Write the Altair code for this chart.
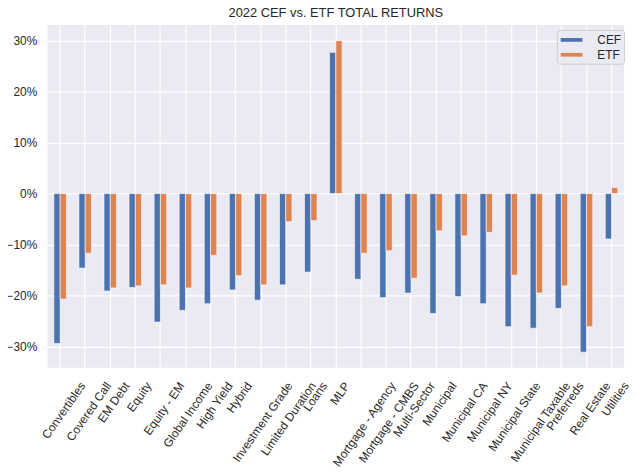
import altair as alt
import pandas as pd

categories = [
    "Convertibles", "Covered Call", "EM Debt", "Equity", "Equity - EM",
    "Global Income", "High Yield", "Hybrid", "Investment Grade",
    "Limited Duration", "Loans", "MLP", "Mortgage - Agency",
    "Mortgage - CMBS", "Multi-Sector", "Municipal", "Municipal CA",
    "Municipal NY", "Municipal State", "Municipal Taxable", "Preferreds",
    "Real Estate", "Utilities",
]
cef = [-29.4, -14.6, -19.1, -18.4, -25.2, -22.9, -21.6, -18.9, -20.9, -17.9,
       -15.4, 27.7, -16.8, -20.4, -19.5, -23.5, -20.2, -21.6, -26.1, -26.4,
       -22.5, -31.1, -8.9]
etf = [-20.7, -11.7, -18.5, -18.1, -17.9, -18.5, -12.1, -16.1, -17.9, -5.5,
       -5.3, 30.0, -11.7, -11.2, -16.6, -7.3, -8.3, -7.6, -16.0, -19.5,
       -18.1, -26.1, 1.2]
series = ["CEF", "ETF"]
colors = ["#4C72B0", "#DD8452"]
y_ticks = [-30, -20, -10, 0, 10, 20, 30]

rows = []
for c, a, b in zip(categories, cef, etf):
    rows.append({"category": c, "series": "CEF", "value": a})
    rows.append({"category": c, "series": "ETF", "value": b})
df = pd.DataFrame(rows)

lo = min(cef + etf)
hi = max(cef + etf)
margin = (hi - lo) * 0.05
FONT = "Liberation Sans"
TXT = "#262626"

# approximate rendered label width (12px Arial metrics) so that the rotated
# label's bounding box is centred under its tick, as matplotlib does
W = ("(6.4*length(datum.label)"
     " - 3.7*length(replace(datum.label, regexp('[^iljtfI]', 'g'), ''))"
     " - 2.6*length(replace(datum.label, regexp('[^ r-]', 'g'), ''))"
     " + 1.9*length(replace(datum.label, regexp('[^A-HJ-Z]', 'g'), '')))")
label_dx = "0.287*" + W

chart = alt.Chart(df).mark_bar(stroke="white", strokeWidth=0.6).encode(
    x=alt.X(
        "category:N",
        sort=categories,
        title=None,
        scale=alt.Scale(paddingInner=0.5, paddingOuter=0.25),
        axis=alt.Axis(
            labelAngle=305,
            labelAlign="right",
            labelBaseline="top",
            labelPadding=12.5,
            labelOffset={"expr": label_dx},
            labelFontSize=12,
            labelFont=FONT,
            labelColor=TXT,
            grid=True,
            gridColor="white",
            gridWidth=1.2,
            ticks=False,
            domain=False,
            bandPosition=0.5,
            labelOverlap=False,
            labelBound=False,
            labelFlush=False,
        ),
    ),
    xOffset=alt.XOffset(
        "series:N",
        sort=series,
        scale=alt.Scale(paddingInner=0, paddingOuter=0),
    ),
    y=alt.Y(
        "value:Q",
        title=None,
        scale=alt.Scale(domain=[lo - margin, hi + margin], nice=False, zero=False),
        axis=alt.Axis(
            values=y_ticks,
            labelExpr="format(datum.value / 100, '.0%')",
            labelFontSize=12,
            labelFont=FONT,
            labelColor=TXT,
            labelPadding=11,
            grid=True,
            gridColor="white",
            gridWidth=1.2,
            ticks=False,
            domain=False,
        ),
    ),
    color=alt.Color(
        "series:N",
        sort=series,
        scale=alt.Scale(domain=series, range=colors),
        legend=alt.Legend(
            title=None,
            orient="none",
            legendX=514,
            legendY=5,
            symbolType="M-1.57,-0.27L1.57,-0.27L1.57,0.27L-1.57,0.27Z",
            symbolSize=196,
            symbolStrokeWidth=0,
            symbolOffset=5,
            labelOffset=19,
            labelFontSize=12,
            labelFont=FONT,
            labelColor=TXT,
            padding=3,
            rowPadding=2,
            fillColor="rgba(234,234,242,0.8)",
            strokeColor="#CCCCCC",
            cornerRadius=3,
        ),
    ),
).properties(
    width=582,
    height=346,
    title=alt.TitleParams(
        "2022 CEF vs. ETF TOTAL RETURNS",
        font=FONT,
        fontSize=13,
        fontWeight="normal",
        color=TXT,
        anchor="middle",
        offset=5,
    ),
    background="white",
    autosize=alt.AutoSizeParams(type="none"),
    padding={"left": 40, "top": 15, "right": 8, "bottom": 100},
).configure_view(
    fill="#EAEAF2",
    stroke=None,
)

chart.save("out.html", embed_options={"renderer": "svg", "actions": False})
